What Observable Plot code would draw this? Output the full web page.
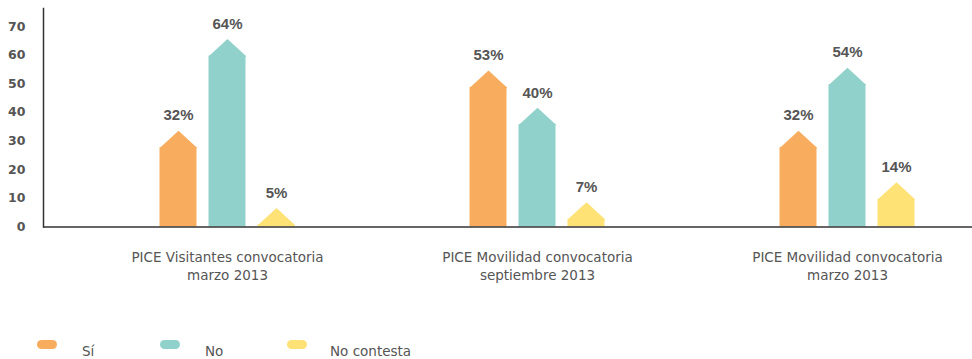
<!DOCTYPE html>
<html>
<head>
<meta charset="utf-8">
<script src="https://cdn.jsdelivr.net/npm/d3@7"></script>
<script src="https://cdn.jsdelivr.net/npm/@observablehq/plot@0.6"></script>
<style>
  body { margin: 0; background: #fff; font-family: "DejaVu Sans", sans-serif; }
  #wrap { position: relative; width: 972px; height: 359px; }
  #legend { position: absolute; left: 0; top: 337px; width: 972px; height: 20px; }
  .sw { position: absolute; top: 3px; width: 20px; height: 9px; border-radius: 5px; }
  .lb { position: absolute; top: 6px; font-size: 13.5px; color: #555; line-height: 16px; }
</style>
</head>
<body>
<div id="wrap">
  <div id="chart"></div>
  <div id="legend"></div>
</div>
<script>
const categories = [
  "PICE Visitantes convocatoria\nmarzo 2013",
  "PICE Movilidad convocatoria\nseptiembre 2013",
  "PICE Movilidad convocatoria\nmarzo 2013"
];
const series = ["Sí", "No", "No contesta"];
const valuesSi = [32, 53, 32];
const valuesNo = [64, 40, 54];
const valuesNoContesta = [5, 7, 14];
const colors = ["#F8AD5E", "#90D2CB", "#FEE275"];
const yTicks = [0, 10, 20, 30, 40, 50, 60, 70];

const seriesValues = [valuesSi, valuesNo, valuesNoContesta];
const BAR_W = 37, STEP = 49, ROOF_H = 17, ROOF_UNITS = 4.3;

const roof = {
  draw(ctx) {
    ctx.moveTo(-BAR_W / 2, 0.6);
    ctx.lineTo(-BAR_W / 2, 0);
    ctx.lineTo(0, -ROOF_H);
    ctx.lineTo(BAR_W / 2, 0);
    ctx.lineTo(BAR_W / 2, 0.6);
    ctx.closePath();
  }
};

const marks = [];
series.forEach((s, j) => {
  const rows = categories.map((c, i) => ({cat: c, serie: s, value: seriesValues[j][i]}));
  const dx = (j - 1) * STEP;
  marks.push(
    Plot.barY(rows, {
      x: "cat", y1: 0, y2: d => d.value - ROOF_UNITS,
      fill: colors[j], dx,
      insetLeft: (310 - BAR_W) / 2, insetRight: (310 - BAR_W) / 2
    }),
    Plot.dot(rows, {
      x: "cat", y: d => d.value - ROOF_UNITS, symbol: roof,
      fill: colors[j], stroke: null, dx
    }),
    Plot.text(rows, {
      x: "cat", y: d => d.value - ROOF_UNITS, text: d => d.value + "%",
      dx, dy: -ROOF_H - 15, fill: "#555", fontSize: 15, fontWeight: "bold",
      fontFamily: "Liberation Sans, Arial, sans-serif"
    })
  );
});

const chart = Plot.plot({
  width: 972,
  height: 290,
  marginLeft: 43,
  marginRight: 0,
  marginTop: 8,
  marginBottom: 63.5,
  style: {fontFamily: "DejaVu Sans, sans-serif", background: "#fff"},
  x: {domain: categories, range: [72, 1002], padding: 0, axis: null},
  y: {domain: [0, 76.3], axis: null},
  marks: [
    ...marks,
    Plot.axisY({ticks: yTicks, tickSize: 0, tickPadding: 18, fontSize: 12.5, fontWeight: "bold", color: "#555", label: null}),
    Plot.axisX({tickSize: 0, tickPadding: 22, fontSize: 13.5, color: "#555", lineHeight: 1.35, label: null}),
    Plot.ruleY([0], {stroke: "#333", strokeWidth: 1.5}),
    Plot.frame({anchor: "left", stroke: "#333", strokeWidth: 1.5})
  ]
});
document.getElementById("chart").appendChild(chart);

const legend = document.getElementById("legend");
const swX = [37, 160, 287];
const lbX = [82, 205, 330];
series.forEach((s, j) => {
  const sw = document.createElement("div");
  sw.className = "sw";
  sw.style.left = swX[j] + "px";
  sw.style.background = colors[j];
  legend.appendChild(sw);
  const lb = document.createElement("div");
  lb.className = "lb";
  lb.style.left = lbX[j] + "px";
  lb.textContent = s;
  legend.appendChild(lb);
});
</script>
</body>
</html>
